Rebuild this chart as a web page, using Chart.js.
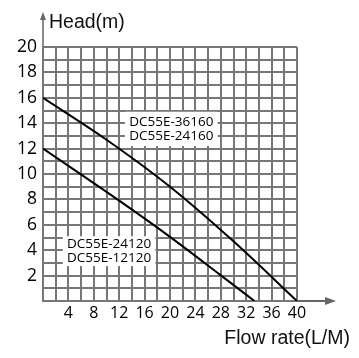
<!DOCTYPE html>
<html><head><meta charset="utf-8">
<script src="https://cdn.jsdelivr.net/npm/chart.js@4/dist/chart.umd.min.js"></script>
<style>html,body{margin:0;padding:0;background:#fff}#wrap{width:359px;height:358px}</style>
</head><body><div id="wrap"><canvas id="c" width="359" height="358"></canvas></div>
<script>
const flowUpper = [0, 10, 20, 30, 40];
const headUpper = [16, 12.7, 9.0, 4.7, 0];
const flowLower = [0, 12, 20, 27.8, 33.3];
const headLower = [12, 7.9, 5.05, 2.1, 0];
const xTickLabels = [4, 8, 12, 16, 20, 24, 28, 32, 36, 40];
const yTickLabels = [2, 4, 6, 8, 10, 12, 14, 16, 18, 20];
const labelUpper = ['DC55E-36160', 'DC55E-24160'];
const labelLower = ['DC55E-24120', 'DC55E-12120'];
const xTitle = 'Flow rate(L/M)';
const yTitle = 'Head(m)';
// annotation anchors in data units: [xMin, xMax, yMin, yMax]
const boxUpper = [12.9, 27.5, 12.2, 14.9];
const boxLower = [3.1, 17.7, 2.75, 5.1];

const toXY = (xs, ys) => xs.map((x, i) => ({x: x, y: ys[i]}));

const overlay = {
  id: 'overlay',
  beforeDatasetsDraw(chart) {
    const ctx = chart.ctx, xs = chart.scales.x, ys = chart.scales.y;
    const drawBox = (b, lines) => {
      const x1 = xs.getPixelForValue(b[0]), x2 = xs.getPixelForValue(b[1]);
      const y1 = ys.getPixelForValue(b[3]), y2 = ys.getPixelForValue(b[2]);
      ctx.save();
      ctx.fillStyle = '#fff';
      ctx.fillRect(x1, y1, x2 - x1, y2 - y1);
      ctx.fillStyle = '#000';
      ctx.font = '13.5px "Open Sans"';
      ctx.textAlign = 'center';
      ctx.textBaseline = 'middle';
      const cx = (x1 + x2) / 2, cy = (y1 + y2) / 2;
      ctx.fillText(lines[0], cx, cy - 7);
      ctx.fillText(lines[1], cx, cy + 7.5);
      ctx.restore();
    };
    drawBox(boxUpper, labelUpper);
    drawBox(boxLower, labelLower);
  },
  afterDraw(chart) {
    const ctx = chart.ctx, a = chart.chartArea;
    ctx.save();
    ctx.strokeStyle = '#666';
    ctx.fillStyle = '#666';
    ctx.lineWidth = 1.5;
    ctx.beginPath();
    ctx.moveTo(a.left, a.top);
    ctx.lineTo(a.left, a.top - 30);
    ctx.stroke();
    ctx.beginPath();
    ctx.moveTo(a.left, a.top - 35);
    ctx.lineTo(a.left - 3, a.top - 27);
    ctx.lineTo(a.left + 3, a.top - 27);
    ctx.closePath();
    ctx.fill();
    ctx.lineWidth = 2;
    ctx.beginPath();
    ctx.moveTo(a.right, a.bottom);
    ctx.lineTo(a.right + 30, a.bottom);
    ctx.stroke();
    ctx.beginPath();
    ctx.moveTo(a.right + 39, a.bottom);
    ctx.lineTo(a.right + 28, a.bottom - 4);
    ctx.lineTo(a.right + 28, a.bottom + 4);
    ctx.closePath();
    ctx.fill();
    ctx.fillStyle = '#111';
    ctx.font = '19.5px "Liberation Sans"';
    ctx.textBaseline = 'alphabetic';
    ctx.textAlign = 'left';
    ctx.fillText(yTitle, a.left + 6, a.top - 19);
    ctx.textAlign = 'right';
    ctx.fillText(xTitle, a.right + 53, a.bottom + 43);
    ctx.restore();
  }
};

new Chart(document.getElementById('c'), {
  type: 'line',
  data: {
    datasets: [
      {data: toXY(flowUpper, headUpper), borderColor: '#000', borderWidth: 2, pointRadius: 0, cubicInterpolationMode: 'monotone', fill: false},
      {data: toXY(flowLower, headLower), borderColor: '#000', borderWidth: 2, pointRadius: 0, cubicInterpolationMode: 'monotone', fill: false}
    ]
  },
  options: {
    responsive: false,
    devicePixelRatio: 1,
    animation: false,
    layout: {padding: {top: 47, right: 62, left: 0, bottom: 0}},
    plugins: {legend: {display: false}, tooltip: {enabled: false}},
    scales: {
      x: {
        type: 'linear', min: 0, max: 40,
        afterFit: s => { s.height = 57; },
        ticks: {
          stepSize: 2, autoSkip: false, maxRotation: 0, padding: 3,
          color: '#000', font: {family: '"Open Sans"', size: 16},
          callback: v => xTickLabels.includes(v) ? String(v) : ''
        },
        grid: {color: '#777', lineWidth: 2, drawTicks: false, tickLength: 0},
        border: {color: '#777', width: 2}
      },
      y: {
        type: 'linear', min: 0, max: 20,
        afterFit: s => { s.width = 43; },
        ticks: {
          stepSize: 1, autoSkip: false, padding: 6,
          color: '#000', font: {family: '"Open Sans"', size: 17.5},
          callback: v => yTickLabels.includes(v) ? String(v) : ''
        },
        grid: {color: '#777', lineWidth: 2, drawTicks: false, tickLength: 0},
        border: {color: '#777', width: 2}
      }
    }
  },
  plugins: [overlay]
});
</script></body></html>
